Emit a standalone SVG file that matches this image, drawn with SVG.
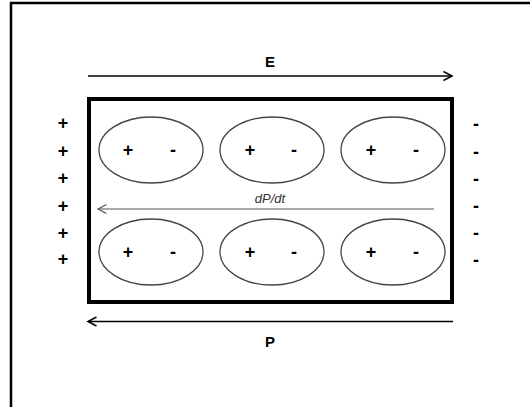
<svg xmlns="http://www.w3.org/2000/svg" width="530" height="407" viewBox="0 0 530 407">
<style>
.sign{font-family:"Liberation Sans",Arial,sans-serif;font-weight:bold;font-size:18px;fill:#000;text-anchor:middle}
.lbl{font-family:"Liberation Sans",Arial,sans-serif;font-weight:bold;font-size:15px;fill:#000;text-anchor:middle}
.cell ellipse{fill:none;stroke:#444;stroke-width:1.3}
</style>
<defs>
<marker id="ah" markerUnits="userSpaceOnUse" markerWidth="12" markerHeight="12" refX="10" refY="6" orient="auto">
<path d="M1.5,1.5 L10,6 L1.5,10.5" fill="none" stroke="#000" stroke-width="1.5"/>
</marker>
<marker id="ahg" markerUnits="userSpaceOnUse" markerWidth="12" markerHeight="12" refX="10" refY="6" orient="auto">
<path d="M1.5,1.5 L10,6 L1.5,10.5" fill="none" stroke="#555" stroke-width="1.2"/>
</marker>
</defs>
<rect width="530" height="407" fill="#fff"/>
<g id="frame">
<path d="M11,407 L11,3 L530,3" fill="none" stroke="#000" stroke-width="2.5"/>
</g>
<g id="slab">
<rect x="89" y="99" width="363" height="203" fill="none" stroke="#000" stroke-width="4"/>
</g>
<g id="cells">
<g id="cell1" class="cell"><ellipse cx="151" cy="150" rx="52" ry="33"/><text class="sign" x="128" y="156">+</text><text class="sign" x="173" y="156">-</text></g>
<g id="cell2" class="cell"><ellipse cx="272" cy="150" rx="52" ry="33"/><text class="sign" x="250" y="156">+</text><text class="sign" x="294" y="156">-</text></g>
<g id="cell3" class="cell"><ellipse cx="393" cy="150" rx="52" ry="33"/><text class="sign" x="371" y="156">+</text><text class="sign" x="416" y="156">-</text></g>
<g id="cell4" class="cell"><ellipse cx="151" cy="252" rx="52" ry="33"/><text class="sign" x="128" y="258">+</text><text class="sign" x="173" y="258">-</text></g>
<g id="cell5" class="cell"><ellipse cx="272" cy="252" rx="52" ry="33"/><text class="sign" x="250" y="258">+</text><text class="sign" x="294" y="258">-</text></g>
<g id="cell6" class="cell"><ellipse cx="393" cy="252" rx="52" ry="33"/><text class="sign" x="371" y="258">+</text><text class="sign" x="416" y="258">-</text></g>
</g>
<g id="left-charges">
<text class="sign" x="63" y="129">+</text>
<text class="sign" x="63" y="157">+</text>
<text class="sign" x="63" y="184">+</text>
<text class="sign" x="63" y="212">+</text>
<text class="sign" x="63" y="239">+</text>
<text class="sign" x="63" y="265">+</text>
</g>
<g id="right-charges">
<text class="sign" x="476" y="130">-</text>
<text class="sign" x="476" y="158">-</text>
<text class="sign" x="476" y="185">-</text>
<text class="sign" x="476" y="212">-</text>
<text class="sign" x="476" y="239">-</text>
<text class="sign" x="476" y="266">-</text>
</g>
<g id="connectors">
<line x1="88" y1="76" x2="452" y2="76" stroke="#000" stroke-width="1.5" marker-end="url(#ah)"/>
<line x1="453" y1="321.5" x2="88" y2="321.5" stroke="#000" stroke-width="1.5" marker-end="url(#ah)"/>
<line x1="434" y1="209" x2="98" y2="209" stroke="#555" stroke-width="1.2" marker-end="url(#ahg)"/>
</g>
<g id="labels">
<text class="lbl" x="270" y="67">E</text>
<text class="lbl" x="270" y="347">P</text>
<text x="270" y="203" font-family="'Liberation Sans',Arial,sans-serif" font-style="italic" font-size="13" fill="#333" text-anchor="middle">dP/dt</text>
</g>
</svg>
